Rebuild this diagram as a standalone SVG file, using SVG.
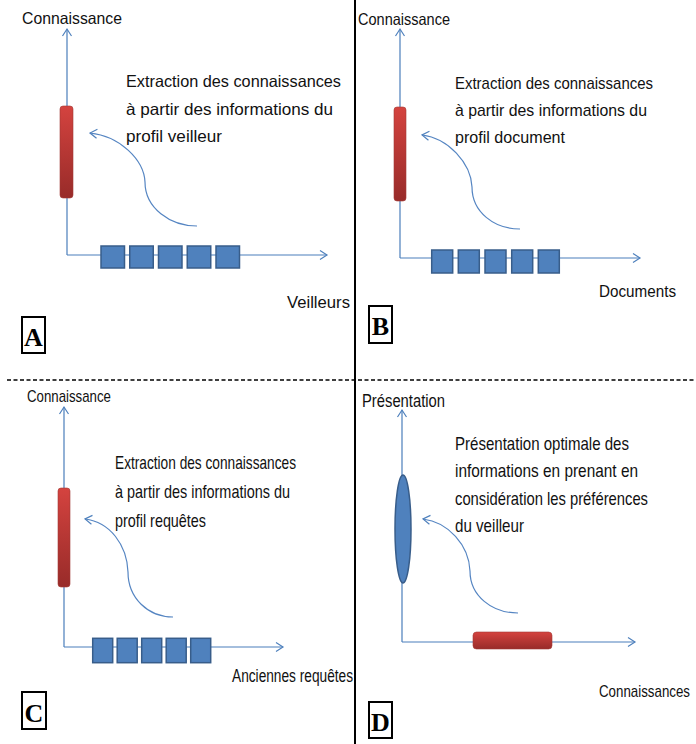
<svg xmlns="http://www.w3.org/2000/svg" width="696" height="744" viewBox="0 0 696 744">
<defs>
<linearGradient id="red" x1="0" y1="0" x2="0" y2="1">
<stop offset="0" stop-color="#d4433f"/>
<stop offset="1" stop-color="#982b29"/>
</linearGradient>
<marker id="chev" markerUnits="userSpaceOnUse" markerWidth="12" markerHeight="12" viewBox="-10 -6 12 12" refX="0" refY="0" orient="auto" overflow="visible">
<path d="M-7,-4.5 L0,0 L-7,4.5" fill="none" stroke="#4f81bd" stroke-width="1.2"/>
</marker>
<style>
.ax{fill:none;stroke:#4a7ebb;stroke-width:1.2;marker-end:url(#chev)}
.cv{fill:none;stroke:#5585c2;stroke-width:1.2;marker-end:url(#chev)}
.bar{fill:url(#red);stroke:#a33a36;stroke-width:0.6}
.sq{fill:#4f81bd;stroke:#385d8a;stroke-width:1.5}
.t{font-family:"Liberation Sans",Arial,sans-serif;fill:#111}
.lb{font-family:"Liberation Serif","Times New Roman",serif;font-weight:bold;font-size:26px;fill:#000}
.box{fill:#fff;stroke:#000;stroke-width:2}
</style>
</defs>
<rect width="696" height="744" fill="#fff"/>
<g id="dividers">
<line x1="355" y1="0" x2="355" y2="744" stroke="#000" stroke-width="2"/>
<line x1="7" y1="380" x2="696" y2="380" stroke="#000" stroke-width="1.6" stroke-dasharray="4,2.5"/>
</g>

<g id="panel-A">
<g id="A-axes"><path class="ax" d="M67,255 V29"/><path class="ax" d="M67,255 H327"/></g>
<text class="t" x="22" y="24" font-size="16.5" textLength="100" lengthAdjust="spacingAndGlyphs">Connaissance</text>
<rect id="A-bar" class="bar" x="60" y="106" width="13" height="92" rx="3"/>
<g id="A-items">
<rect class="sq" x="101" y="246" width="23.5" height="22"/>
<rect class="sq" x="129.75" y="246" width="23.5" height="22"/>
<rect class="sq" x="158.5" y="246" width="23.5" height="22"/>
<rect class="sq" x="187.25" y="246" width="23.5" height="22"/>
<rect class="sq" x="216" y="246" width="23.5" height="22"/>
</g>
<g id="A-text" class="t" font-size="16.5">
<text x="126" y="87" textLength="215" lengthAdjust="spacingAndGlyphs">Extraction des connaissances</text>
<text x="126" y="115" textLength="207" lengthAdjust="spacingAndGlyphs">à partir des informations du</text>
<text x="126" y="142" textLength="96" lengthAdjust="spacingAndGlyphs">profil veilleur</text>
</g>
<text class="t" x="287" y="308" font-size="17" textLength="63" lengthAdjust="spacingAndGlyphs">Veilleurs</text>
<g id="A-label"><rect class="box" x="22" y="317" width="23" height="36"/><text class="lb" x="33.5" y="346" text-anchor="middle">A</text></g>
</g>

<g id="panel-B">
<g id="B-axes"><path class="ax" d="M400,258 V29"/><path class="ax" d="M400,258 H640"/></g>
<text class="t" x="358" y="25" font-size="16.5" textLength="92" lengthAdjust="spacingAndGlyphs">Connaissance</text>
<rect id="B-bar" class="bar" x="394" y="107" width="12" height="94" rx="3"/>
<g id="B-items">
<rect class="sq" x="431.7" y="250" width="21" height="23"/>
<rect class="sq" x="458.3" y="250" width="21" height="23"/>
<rect class="sq" x="485" y="250" width="21" height="23"/>
<rect class="sq" x="511.7" y="250" width="21" height="23"/>
<rect class="sq" x="538.3" y="250" width="21" height="23"/>
</g>
<g id="B-text" class="t" font-size="17">
<text x="455" y="89" textLength="198" lengthAdjust="spacingAndGlyphs">Extraction des connaissances</text>
<text x="455" y="116" textLength="192" lengthAdjust="spacingAndGlyphs">à partir des informations du</text>
<text x="455" y="143" textLength="110" lengthAdjust="spacingAndGlyphs">profil document</text>
</g>
<text class="t" x="599" y="297" font-size="17" textLength="77" lengthAdjust="spacingAndGlyphs">Documents</text>
<g id="B-label"><rect class="box" x="369" y="306" width="23" height="37"/><text class="lb" x="380.5" y="335" text-anchor="middle">B</text></g>
</g>

<g id="panel-C">
<g id="C-axes"><path class="ax" d="M64,647 V407"/><path class="ax" d="M64,647 H283"/></g>
<text class="t" x="27" y="402" font-size="17" textLength="84" lengthAdjust="spacingAndGlyphs">Connaissance</text>
<rect id="C-bar" class="bar" x="58" y="488" width="12" height="99" rx="3"/>
<g id="C-items">
<rect class="sq" x="92.7" y="638.3" width="20" height="24.4"/>
<rect class="sq" x="117.2" y="638.3" width="20" height="24.4"/>
<rect class="sq" x="141.7" y="638.3" width="20" height="24.4"/>
<rect class="sq" x="166.2" y="638.3" width="20" height="24.4"/>
<rect class="sq" x="190.7" y="638.3" width="20" height="24.4"/>
</g>
<g id="C-text" class="t" font-size="18.5">
<text x="115" y="469" textLength="181" lengthAdjust="spacingAndGlyphs">Extraction des connaissances</text>
<text x="115" y="498" textLength="175" lengthAdjust="spacingAndGlyphs">à partir des informations du</text>
<text x="115" y="527" textLength="91" lengthAdjust="spacingAndGlyphs">profil requêtes</text>
</g>
<text class="t" x="232" y="682" font-size="18" textLength="121" lengthAdjust="spacingAndGlyphs">Anciennes requêtes</text>
<g id="C-label"><rect class="box" x="22" y="692" width="24" height="37"/><text class="lb" x="34" y="722" text-anchor="middle">C</text></g>
</g>

<g id="panel-D">
<g id="D-axes"><path class="ax" d="M402,642 V410"/><path class="ax" d="M402,642 H635"/></g>
<text class="t" x="362" y="407" font-size="17.5" textLength="83" lengthAdjust="spacingAndGlyphs">Présentation</text>
<ellipse id="D-ellipse" cx="403" cy="529" rx="8" ry="54" fill="#4f81bd" stroke="#385d8a" stroke-width="1.5"/>
<rect id="D-bar" class="bar" x="473" y="632" width="79" height="17" rx="3.5"/>
<g id="D-text" class="t" font-size="18.5">
<text x="455" y="450" textLength="174" lengthAdjust="spacingAndGlyphs">Présentation optimale des</text>
<text x="455" y="477" textLength="183" lengthAdjust="spacingAndGlyphs">informations en prenant en</text>
<text x="455" y="505" textLength="193" lengthAdjust="spacingAndGlyphs">considération les préférences</text>
<text x="455" y="532" textLength="69" lengthAdjust="spacingAndGlyphs">du veilleur</text>
</g>
<text class="t" x="690" y="697" font-size="17" text-anchor="end" textLength="91" lengthAdjust="spacingAndGlyphs">Connaissances</text>
<g id="D-label"><rect class="box" x="369" y="702" width="23" height="36"/><text class="lb" x="380.5" y="731" text-anchor="middle">D</text></g>
</g>

<g id="connectors">
<path class="cv" d="M197,226 C170,226 145,208 145,182 C144,160 120,136 90,133"/>
<path class="cv" d="M520,229 C494,229 472,212 472,187 C471,163 448,138 422,135"/>
<path class="cv" d="M173,617 C148,617 128,598 128,572 C127,545 110,522 85,519"/>
<path class="cv" d="M518,613 C492,613 470,596 470,571 C469,545 448,522 423,519"/>
</g>
</svg>
